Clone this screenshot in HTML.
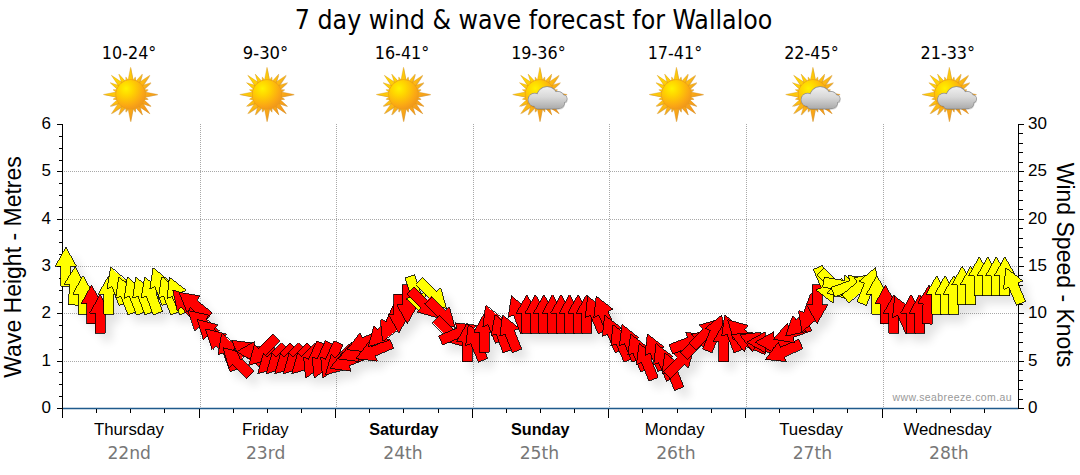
<!DOCTYPE html><html><head><meta charset="utf-8"><title>7 day wind &amp; wave forecast for Wallaloo</title>
<style>html,body{margin:0;padding:0;background:#fff;overflow:hidden}svg{display:block}text{font-family:"Liberation Sans",sans-serif;fill:#000}.t{font-family:"DejaVu Sans Condensed","DejaVu Sans","Liberation Sans",sans-serif}</style></head><body>
<svg width="1080" height="475" viewBox="0 0 1080 475">
<defs><filter id="sh" x="-5%" y="-20%" width="110%" height="150%"><feGaussianBlur in="SourceAlpha" stdDeviation="5"/><feOffset dx="7" dy="8"/><feComponentTransfer><feFuncA type="linear" slope="0.115"/></feComponentTransfer></filter></defs>
<rect width="1080" height="475" fill="#fff"/>
<text class="t" x="533.6" y="28.8" font-size="26" text-anchor="middle" textLength="477.5" lengthAdjust="spacingAndGlyphs">7 day wind &amp; wave forecast for Wallaloo</text>
<text class="t" x="129.1" y="59" font-size="17" text-anchor="middle" textLength="54.5" lengthAdjust="spacingAndGlyphs">10-24°</text>
<text class="t" x="265.5" y="59" font-size="17" text-anchor="middle" textLength="45.5" lengthAdjust="spacingAndGlyphs">9-30°</text>
<text class="t" x="402.0" y="59" font-size="17" text-anchor="middle" textLength="54.5" lengthAdjust="spacingAndGlyphs">16-41°</text>
<text class="t" x="538.4" y="59" font-size="17" text-anchor="middle" textLength="54.5" lengthAdjust="spacingAndGlyphs">19-36°</text>
<text class="t" x="674.9" y="59" font-size="17" text-anchor="middle" textLength="54.5" lengthAdjust="spacingAndGlyphs">17-41°</text>
<text class="t" x="811.4" y="59" font-size="17" text-anchor="middle" textLength="54.5" lengthAdjust="spacingAndGlyphs">22-45°</text>
<text class="t" x="947.8" y="59" font-size="17" text-anchor="middle" textLength="54.5" lengthAdjust="spacingAndGlyphs">21-33°</text>
<path d="M200.5 124.0V408.5M336.5 124.0V408.5M473.5 124.0V408.5M609.5 124.0V408.5M746.5 124.0V408.5M883.5 124.0V408.5M63.5 361.5H1016.5M63.5 313.5H1016.5M63.5 266.5H1016.5M63.5 219.5H1016.5M63.5 171.5H1016.5" stroke="#a8a8a8" stroke-width="1" stroke-dasharray="1 1" fill="none" shape-rendering="crispEdges"/>
<path d="M62.5 408.5H1018.5" stroke="#1f5a8c" stroke-width="1.4" fill="none"/>
<path d="M62.5 124.0V417.5M1018.5 124.0V408.5M57.0 408.5H62.5M1018.5 408.5H1024.0M1018.5 399.5H1022.5M1018.5 389.5H1022.5M1018.5 380.5H1022.5M1018.5 370.5H1022.5M57.0 361.5H62.5M1018.5 361.5H1024.0M1018.5 351.5H1022.5M1018.5 342.5H1022.5M1018.5 332.5H1022.5M1018.5 323.5H1022.5M57.0 313.5H62.5M1018.5 313.5H1024.0M1018.5 304.5H1022.5M1018.5 294.5H1022.5M1018.5 285.5H1022.5M1018.5 275.5H1022.5M57.0 266.5H62.5M1018.5 266.5H1024.0M1018.5 257.5H1022.5M1018.5 247.5H1022.5M1018.5 238.5H1022.5M1018.5 228.5H1022.5M57.0 219.5H62.5M1018.5 219.5H1024.0M1018.5 209.5H1022.5M1018.5 200.5H1022.5M1018.5 190.5H1022.5M1018.5 181.5H1022.5M57.0 171.5H62.5M1018.5 171.5H1024.0M1018.5 162.5H1022.5M1018.5 152.5H1022.5M1018.5 143.5H1022.5M1018.5 133.5H1022.5M57.0 124.5H62.5M1018.5 124.5H1024.0M58.5 396.5H62.5M58.5 384.5H62.5M58.5 372.5H62.5M58.5 349.5H62.5M58.5 337.5H62.5M58.5 325.5H62.5M58.5 302.5H62.5M58.5 290.5H62.5M58.5 278.5H62.5M58.5 254.5H62.5M58.5 242.5H62.5M58.5 230.5H62.5M58.5 207.5H62.5M58.5 195.5H62.5M58.5 183.5H62.5M58.5 160.5H62.5M58.5 148.5H62.5M58.5 136.5H62.5M62.5 408.5V417.5M96.5 408.5V413.0M130.5 408.5V413.0M164.5 408.5V413.0M199.5 408.5V417.5M233.5 408.5V413.0M267.5 408.5V413.0M301.5 408.5V413.0M335.5 408.5V417.5M369.5 408.5V413.0M403.5 408.5V413.0M438.5 408.5V413.0M472.5 408.5V417.5M506.5 408.5V413.0M540.5 408.5V413.0M574.5 408.5V413.0M608.5 408.5V417.5M642.5 408.5V413.0M677.5 408.5V413.0M711.5 408.5V413.0M745.5 408.5V417.5M779.5 408.5V413.0M813.5 408.5V413.0M847.5 408.5V413.0M882.5 408.5V417.5M916.5 408.5V413.0M950.5 408.5V413.0M984.5 408.5V413.0" stroke="#000" stroke-width="1" fill="none" shape-rendering="crispEdges"/>
<text x="51" y="412.9" font-size="17" text-anchor="end">0</text>
<text x="1028" y="412.9" font-size="17">0</text>
<text x="51" y="365.6" font-size="17" text-anchor="end">1</text>
<text x="1028" y="365.6" font-size="17">5</text>
<text x="51" y="318.2" font-size="17" text-anchor="end">2</text>
<text x="1028" y="318.2" font-size="17">10</text>
<text x="51" y="270.9" font-size="17" text-anchor="end">3</text>
<text x="1028" y="270.9" font-size="17">15</text>
<text x="51" y="223.6" font-size="17" text-anchor="end">4</text>
<text x="1028" y="223.6" font-size="17">20</text>
<text x="51" y="176.2" font-size="17" text-anchor="end">5</text>
<text x="1028" y="176.2" font-size="17">25</text>
<text x="51" y="128.9" font-size="17" text-anchor="end">6</text>
<text x="1028" y="128.9" font-size="17">30</text>
<text transform="translate(20.5,267) rotate(-90)" font-size="23" text-anchor="middle">Wave Height - Metres</text>
<text transform="translate(1057,265) rotate(90)" font-size="23" text-anchor="middle">Wind Speed - Knots</text>
<text x="128.9" y="435" font-size="16.8" text-anchor="middle">Thursday</text>
<text class="t" transform="translate(129.2,459) scale(1.09,1)" font-size="17.5" text-anchor="middle" style="fill:#777">22nd</text>
<text x="265.3" y="435" font-size="16.8" text-anchor="middle">Friday</text>
<text class="t" transform="translate(265.6,459) scale(1.09,1)" font-size="17.5" text-anchor="middle" style="fill:#777">23rd</text>
<text x="403.8" y="435" font-size="16.2" text-anchor="middle" font-weight="bold">Saturday</text>
<text class="t" transform="translate(403.0,459) scale(1.09,1)" font-size="17.5" text-anchor="middle" style="fill:#777">24th</text>
<text x="540.2" y="435" font-size="16.2" text-anchor="middle" font-weight="bold">Sunday</text>
<text class="t" transform="translate(539.4,459) scale(1.09,1)" font-size="17.5" text-anchor="middle" style="fill:#777">25th</text>
<text x="674.7" y="435" font-size="16.8" text-anchor="middle">Monday</text>
<text class="t" transform="translate(675.9,459) scale(1.09,1)" font-size="17.5" text-anchor="middle" style="fill:#777">26th</text>
<text x="811.1" y="435" font-size="16.8" text-anchor="middle">Tuesday</text>
<text class="t" transform="translate(812.4,459) scale(1.09,1)" font-size="17.5" text-anchor="middle" style="fill:#777">27th</text>
<text x="947.6" y="435" font-size="16.8" text-anchor="middle">Wednesday</text>
<text class="t" transform="translate(948.8,459) scale(1.09,1)" font-size="17.5" text-anchor="middle" style="fill:#777">28th</text>
<text x="1012" y="400.8" font-size="10.5" text-anchor="end" style="fill:#999" letter-spacing="0.4">www.seabreeze.com.au</text>
<defs><radialGradient id="sg" gradientUnits="userSpaceOnUse" cx="-4.5" cy="-6" r="21"><stop offset="0" stop-color="#fff200"/><stop offset="0.35" stop-color="#ffd400"/><stop offset="0.8" stop-color="#fba913"/><stop offset="1" stop-color="#f29a1a"/></radialGradient><linearGradient id="rg" gradientUnits="userSpaceOnUse" x1="-19" y1="-19" x2="19" y2="19"><stop offset="0" stop-color="#ffdc00"/><stop offset="0.5" stop-color="#fcb712"/><stop offset="1" stop-color="#f5921e"/></linearGradient><g id="sun"><path d="M13.50 -2.70L27.20 0.00L13.50 2.70ZM13.43 2.05L17.58 4.71L12.65 4.94ZM12.84 4.76L20.44 11.80L10.54 8.74ZM11.46 7.64L19.23 19.23L7.64 11.46ZM8.74 10.54L11.80 20.44L4.76 12.84ZM4.94 12.65L4.71 17.58L2.05 13.43ZM2.70 13.50L0.00 27.20L-2.70 13.50ZM-2.05 13.43L-4.71 17.58L-4.94 12.65ZM-4.76 12.84L-11.80 20.44L-8.74 10.54ZM-7.64 11.46L-19.23 19.23L-11.46 7.64ZM-10.54 8.74L-20.44 11.80L-12.84 4.76ZM-12.65 4.94L-17.58 4.71L-13.43 2.05ZM-13.50 2.70L-27.20 0.00L-13.50 -2.70ZM-13.43 -2.05L-17.58 -4.71L-12.65 -4.94ZM-12.84 -4.76L-20.44 -11.80L-10.54 -8.74ZM-11.46 -7.64L-19.23 -19.23L-7.64 -11.46ZM-8.74 -10.54L-11.80 -20.44L-4.76 -12.84ZM-4.94 -12.65L-4.71 -17.58L-2.05 -13.43ZM-2.70 -13.50L-0.00 -27.20L2.70 -13.50ZM2.05 -13.43L4.71 -17.58L4.94 -12.65ZM4.76 -12.84L11.80 -20.44L8.74 -10.54ZM7.64 -11.46L19.23 -19.23L11.46 -7.64ZM10.54 -8.74L20.44 -11.80L12.84 -4.76ZM12.65 -4.94L17.58 -4.71L13.43 -2.05Z" fill="#b9801c" opacity="0.55" transform="translate(0.5,0.6)"/><path d="M13.50 -2.70L27.20 0.00L13.50 2.70ZM13.43 2.05L17.58 4.71L12.65 4.94ZM12.84 4.76L20.44 11.80L10.54 8.74ZM11.46 7.64L19.23 19.23L7.64 11.46ZM8.74 10.54L11.80 20.44L4.76 12.84ZM4.94 12.65L4.71 17.58L2.05 13.43ZM2.70 13.50L0.00 27.20L-2.70 13.50ZM-2.05 13.43L-4.71 17.58L-4.94 12.65ZM-4.76 12.84L-11.80 20.44L-8.74 10.54ZM-7.64 11.46L-19.23 19.23L-11.46 7.64ZM-10.54 8.74L-20.44 11.80L-12.84 4.76ZM-12.65 4.94L-17.58 4.71L-13.43 2.05ZM-13.50 2.70L-27.20 0.00L-13.50 -2.70ZM-13.43 -2.05L-17.58 -4.71L-12.65 -4.94ZM-12.84 -4.76L-20.44 -11.80L-10.54 -8.74ZM-11.46 -7.64L-19.23 -19.23L-7.64 -11.46ZM-8.74 -10.54L-11.80 -20.44L-4.76 -12.84ZM-4.94 -12.65L-4.71 -17.58L-2.05 -13.43ZM-2.70 -13.50L-0.00 -27.20L2.70 -13.50ZM2.05 -13.43L4.71 -17.58L4.94 -12.65ZM4.76 -12.84L11.80 -20.44L8.74 -10.54ZM7.64 -11.46L19.23 -19.23L11.46 -7.64ZM10.54 -8.74L20.44 -11.80L12.84 -4.76ZM12.65 -4.94L17.58 -4.71L13.43 -2.05Z" fill="url(#rg)" stroke="#d9921c" stroke-width="0.45" stroke-opacity="0.8"/><circle r="15" fill="#e89a18"/><circle r="14.5" fill="url(#sg)"/></g><linearGradient id="cg" gradientUnits="userSpaceOnUse" x1="0" y1="-8" x2="0" y2="15.5"><stop offset="0" stop-color="#f0f0f0"/><stop offset="0.45" stop-color="#d8d8d8"/><stop offset="1" stop-color="#a6a6a6"/></linearGradient><g id="cloud"><g fill="#000" opacity="0.18" transform="translate(0.8,1.3)"><circle cx="-5.2" cy="5.2" r="6.3"/><circle cx="7.2" cy="2.6" r="10.2"/><circle cx="18" cy="3.4" r="6.2"/><circle cx="23.4" cy="4.2" r="3.5"/><rect x="-6" y="4" width="27" height="10" rx="4.5" ry="4.5"/><circle cx="18.8" cy="8.2" r="5.6"/></g><g fill="#8d8d8d" stroke="#8d8d8d" stroke-width="1.3"><circle cx="-5.2" cy="5.2" r="6.3"/><circle cx="7.2" cy="2.6" r="10.2"/><circle cx="18" cy="3.4" r="6.2"/><circle cx="23.4" cy="4.2" r="3.5"/><rect x="-6" y="4" width="27" height="10" rx="4.5" ry="4.5"/><circle cx="18.8" cy="8.2" r="5.6"/></g><g fill="url(#cg)"><circle cx="-5.2" cy="5.2" r="6.3"/><circle cx="7.2" cy="2.6" r="10.2"/><circle cx="18" cy="3.4" r="6.2"/><circle cx="23.4" cy="4.2" r="3.5"/><rect x="-6" y="4" width="27" height="10" rx="4.5" ry="4.5"/><circle cx="18.8" cy="8.2" r="5.6"/></g></g></defs>
<use href="#sun" x="130.6" y="94.5"/>
<use href="#sun" x="267.0" y="94.5"/>
<use href="#sun" x="403.5" y="94.5"/>
<use href="#sun" x="539.9" y="94.5"/>
<use href="#cloud" x="539.9" y="94.5"/>
<use href="#sun" x="676.4" y="94.5"/>
<use href="#sun" x="812.9" y="94.5"/>
<use href="#cloud" x="812.9" y="94.5"/>
<use href="#sun" x="949.3" y="94.5"/>
<use href="#cloud" x="949.3" y="94.5"/>
<path d="M65.9 247.3L76.4 266.0L70.9 266.0L70.9 286.0L60.9 286.0L60.9 266.0L55.4 266.0ZM75.4 266.3L84.9 285.5L79.5 285.2L78.4 305.2L68.4 304.6L69.5 284.7L64.0 284.4ZM83.0 275.7L93.5 294.4L88.0 294.4L88.0 314.4L78.0 314.4L78.0 294.4L72.5 294.4ZM91.5 285.2L102.0 303.9L96.5 303.9L96.5 323.9L86.5 323.9L86.5 303.9L81.0 303.9ZM100.0 294.6L110.5 313.3L105.0 313.3L105.0 333.3L95.0 333.3L95.0 313.3L89.5 313.3ZM108.6 275.7L119.1 294.4L113.6 294.4L113.6 314.4L103.6 314.4L103.6 294.4L98.1 294.4ZM110.5 267.4L126.8 281.4L121.6 283.3L128.5 302.0L119.1 305.5L112.2 286.7L107.1 288.6ZM118.8 277.0L135.3 290.7L130.1 292.6L137.3 311.3L128.0 314.9L120.8 296.2L115.7 298.2ZM127.3 277.0L143.8 290.7L138.7 292.6L145.8 311.3L136.5 314.9L129.3 296.2L124.2 298.2ZM135.8 277.0L152.3 290.7L147.2 292.6L154.4 311.3L145.0 314.9L137.9 296.2L132.7 298.2ZM144.7 276.9L161.0 290.8L155.8 292.7L162.6 311.5L153.2 314.9L146.4 296.1L141.2 298.0ZM152.9 267.5L169.4 281.2L164.3 283.2L171.5 301.8L162.1 305.4L154.9 286.8L149.8 288.7ZM161.5 277.0L178.0 290.7L172.8 292.6L180.0 311.3L170.7 314.9L163.5 296.2L158.4 298.2ZM169.4 277.2L186.3 290.3L181.3 292.5L189.1 310.9L179.9 314.8L172.1 296.4L167.0 298.5ZM172.8 289.9L193.0 297.1L188.8 300.7L202.0 315.8L194.4 322.4L181.3 307.3L177.2 310.9ZM179.0 292.3L200.2 295.9L196.7 300.2L212.2 312.8L205.9 320.5L190.4 307.9L186.9 312.2ZM188.2 310.5L209.1 315.2L205.5 319.2L220.3 332.6L213.6 340.1L198.8 326.7L195.1 330.8ZM197.2 319.4L217.9 324.9L214.1 328.8L228.5 342.7L221.6 349.9L207.2 336.0L203.4 340.0ZM205.5 329.1L226.3 334.2L222.6 338.2L237.2 351.9L230.4 359.2L215.8 345.5L212.0 349.6ZM221.5 333.7L237.8 347.6L232.6 349.5L239.5 368.3L230.1 371.7L223.2 352.9L218.0 354.8ZM223.0 347.6L243.7 353.4L239.8 357.3L253.9 371.4L246.9 378.5L232.7 364.3L228.8 368.2ZM231.6 340.4L252.9 342.9L249.7 347.4L265.9 359.1L260.0 367.2L243.8 355.5L240.6 359.9ZM235.5 351.7L254.2 341.2L254.2 346.7L274.2 346.7L274.2 356.7L254.2 356.7L254.2 362.2ZM248.7 365.3L254.4 344.6L258.3 348.5L272.5 334.4L279.6 341.4L265.4 355.6L269.3 359.5ZM257.7 373.7L263.5 353.1L267.4 357.0L281.5 342.8L288.6 349.9L274.4 364.1L278.3 367.9ZM266.2 373.7L272.0 353.1L275.9 357.0L290.1 342.8L297.1 349.9L283.0 364.1L286.9 367.9ZM274.8 373.7L280.6 353.1L284.4 357.0L298.6 342.8L305.7 349.9L291.5 364.1L295.4 367.9ZM283.3 373.7L289.1 353.1L293.0 357.0L307.1 342.8L314.2 349.9L300.1 364.1L303.9 367.9ZM291.8 373.7L297.6 353.1L301.5 357.0L315.7 342.8L322.7 349.9L308.6 364.1L312.5 367.9ZM305.6 378.2L303.6 356.9L308.7 359.1L316.8 340.8L325.9 344.9L317.8 363.2L322.8 365.4ZM314.2 378.2L312.2 356.9L317.2 359.1L325.3 340.8L334.5 344.9L326.3 363.2L331.4 365.4ZM322.7 378.2L320.7 356.9L325.7 359.1L333.9 340.8L343.0 344.9L334.9 363.2L339.9 365.4ZM325.5 374.7L331.3 354.1L335.2 358.0L349.3 343.8L356.4 350.9L342.2 365.1L346.1 368.9ZM329.8 368.4L343.2 351.6L345.3 356.7L363.8 349.2L367.5 358.5L349.0 366.0L351.1 371.1ZM338.3 358.9L351.7 342.2L353.8 347.3L372.3 339.8L376.1 349.0L357.5 356.5L359.6 361.6ZM347.0 349.7L360.1 332.8L362.2 337.8L380.7 330.0L384.6 339.2L366.2 347.0L368.3 352.1ZM356.0 358.7L369.1 341.7L371.3 346.8L389.7 339.0L393.6 348.2L375.2 356.0L377.3 361.1ZM368.4 346.6L373.8 325.8L377.8 329.7L391.7 315.3L398.9 322.2L385.0 336.6L388.9 340.4ZM382.5 340.8L380.5 319.5L385.5 321.7L393.6 303.5L402.8 307.5L394.6 325.8L399.7 328.0ZM398.8 333.0L388.3 314.3L393.8 314.3L393.8 294.3L403.8 294.3L403.8 314.3L409.3 314.3ZM407.3 323.6L396.8 304.9L402.3 304.9L402.3 284.9L412.3 284.9L412.3 304.9L417.8 304.9ZM421.8 313.2L406.0 298.6L411.3 296.9L405.1 277.9L414.6 274.8L420.8 293.8L426.0 292.1ZM438.0 317.9L417.3 312.1L421.2 308.3L407.1 294.1L414.2 287.0L428.3 301.2L432.2 297.3ZM446.5 308.5L425.9 302.7L429.8 298.8L415.6 284.6L422.7 277.6L436.8 291.7L440.7 287.8ZM455.1 327.4L434.4 321.6L438.3 317.7L424.2 303.6L431.2 296.5L445.4 310.7L449.3 306.8ZM463.6 346.3L442.9 340.5L446.8 336.7L432.7 322.5L439.8 315.4L453.9 329.6L457.8 325.7ZM476.2 325.3L463.1 342.2L461.0 337.2L442.6 345.0L438.7 335.8L457.1 328.0L454.9 322.9ZM467.1 323.0L477.6 341.7L472.1 341.7L472.1 361.7L462.1 361.7L462.1 341.7L456.6 341.7ZM468.4 324.4L485.2 337.8L480.1 339.9L487.6 358.4L478.3 362.2L470.8 343.6L465.7 345.7ZM484.2 313.6L494.7 332.3L489.2 332.3L489.2 352.3L479.2 352.3L479.2 332.3L473.7 332.3ZM485.5 305.5L502.2 318.9L497.1 321.0L504.6 339.5L495.4 343.3L487.9 324.7L482.8 326.8ZM495.0 314.6L511.0 328.9L505.8 330.7L512.3 349.6L502.9 352.8L496.3 333.9L491.1 335.7ZM502.6 315.0L519.3 328.4L514.2 330.4L521.7 349.0L512.4 352.7L504.9 334.2L499.8 336.2ZM511.4 295.9L527.9 309.6L522.8 311.6L530.0 330.2L520.6 333.8L513.5 315.2L508.3 317.1ZM526.8 294.6L537.3 313.3L531.8 313.3L531.8 333.3L521.8 333.3L521.8 313.3L516.3 313.3ZM535.4 294.6L545.9 313.3L540.4 313.3L540.4 333.3L530.4 333.3L530.4 313.3L524.9 313.3ZM543.9 294.6L554.4 313.3L548.9 313.3L548.9 333.3L538.9 333.3L538.9 313.3L533.4 313.3ZM552.5 294.6L563.0 313.3L557.5 313.3L557.5 333.3L547.5 333.3L547.5 313.3L542.0 313.3ZM561.0 294.6L571.5 313.3L566.0 313.3L566.0 333.3L556.0 333.3L556.0 313.3L550.5 313.3ZM569.5 294.6L580.0 313.3L574.5 313.3L574.5 333.3L564.5 333.3L564.5 313.3L559.0 313.3ZM578.1 294.6L588.6 313.3L583.1 313.3L583.1 333.3L573.1 333.3L573.1 313.3L567.6 313.3ZM586.6 294.6L597.1 313.3L591.6 313.3L591.6 333.3L581.6 333.3L581.6 313.3L576.1 313.3ZM587.6 296.2L604.6 309.3L599.5 311.4L607.4 329.8L598.1 333.7L590.3 315.3L585.3 317.5ZM596.2 296.2L613.1 309.3L608.1 311.4L615.9 329.8L606.7 333.7L598.9 315.3L593.8 317.5ZM604.7 315.1L621.7 328.2L616.6 330.4L624.4 348.8L615.2 352.7L607.4 334.3L602.3 336.4ZM612.9 324.7L630.1 337.5L625.1 339.7L633.2 358.0L624.1 362.1L616.0 343.8L610.9 346.0ZM622.1 324.4L638.8 337.8L633.7 339.9L641.2 358.4L631.9 362.2L624.5 343.6L619.4 345.7ZM630.6 333.9L647.4 347.3L642.3 349.4L649.8 367.9L640.5 371.7L633.0 353.1L627.9 355.2ZM639.2 343.4L655.9 356.8L650.8 358.8L658.3 377.4L649.0 381.1L641.5 362.6L636.4 364.6ZM647.4 334.0L664.4 347.1L659.3 349.3L667.1 367.7L657.9 371.6L650.1 353.2L645.0 355.3ZM655.9 343.5L672.9 356.6L667.8 358.8L675.6 377.2L666.4 381.1L658.6 362.7L653.6 364.8ZM664.8 352.8L681.5 366.2L676.4 368.3L683.9 386.8L674.6 390.6L667.1 372.0L662.0 374.1ZM694.1 347.6L688.3 368.2L684.4 364.3L670.2 378.5L663.2 371.4L677.3 357.3L673.4 353.4ZM707.0 335.4L693.3 351.9L691.3 346.7L672.6 353.9L669.0 344.6L687.7 337.4L685.7 332.3ZM711.1 328.7L705.3 349.3L701.5 345.4L687.3 359.6L680.2 352.5L694.4 338.3L690.5 334.5ZM719.7 319.2L713.9 339.8L710.0 335.9L695.8 350.1L688.8 343.0L702.9 328.9L699.0 325.0ZM721.8 315.0L724.6 336.2L719.5 334.2L712.0 352.7L702.7 349.0L710.2 330.4L705.1 328.4ZM723.7 323.0L734.2 341.7L728.7 341.7L728.7 361.7L718.7 361.7L718.7 341.7L713.2 341.7ZM724.8 314.8L741.3 328.5L736.2 330.5L743.4 349.2L734.0 352.8L726.9 334.1L721.7 336.1ZM727.7 319.7L748.3 325.5L744.4 329.4L758.6 343.5L751.5 350.6L737.4 336.4L733.5 340.3ZM731.1 334.7L752.4 332.4L750.3 337.4L768.7 345.3L764.8 354.5L746.4 346.6L744.2 351.7ZM739.6 334.7L761.0 332.4L758.8 337.4L777.2 345.3L773.3 354.5L754.9 346.6L752.8 351.7ZM746.7 342.2L765.4 331.7L765.4 337.2L785.4 337.2L785.4 347.2L765.4 347.2L765.4 352.7ZM755.2 342.2L773.9 331.7L773.9 337.2L793.9 337.2L793.9 347.2L773.9 347.2L773.9 352.7ZM765.4 359.5L778.2 342.3L780.4 347.3L798.7 339.2L802.8 348.3L784.5 356.5L786.7 361.5ZM773.4 339.3L787.4 323.1L789.3 328.2L808.1 321.4L811.5 330.8L792.7 337.6L794.6 342.8ZM785.7 336.1L792.6 315.8L796.3 319.9L811.1 306.5L817.8 314.0L803.0 327.4L806.7 331.4ZM802.0 331.9L798.5 310.7L803.7 312.6L810.5 293.8L819.9 297.2L813.1 316.0L818.2 317.9ZM817.1 323.6L806.6 304.9L812.1 304.9L812.1 284.9L822.1 284.9L822.1 304.9L827.6 304.9ZM833.1 303.1L816.1 290.0L821.2 287.8L813.4 269.4L822.6 265.5L830.4 283.9L835.5 281.8ZM847.7 299.0L827.1 293.2L831.0 289.3L816.8 275.2L823.9 268.1L838.0 282.3L841.9 278.4ZM861.6 288.8L841.3 295.9L842.3 290.4L822.6 287.0L824.3 277.1L844.0 280.6L845.0 275.2ZM869.3 278.9L855.3 295.1L853.4 290.0L834.6 296.8L831.2 287.4L850.0 280.6L848.1 275.4ZM875.0 273.8L867.4 293.9L863.8 289.6L848.5 302.5L842.1 294.8L857.4 282.0L853.9 277.8ZM875.7 267.5L878.8 288.7L873.6 286.8L866.5 305.4L857.1 301.8L864.3 283.2L859.2 281.2ZM876.8 275.7L887.3 294.4L881.8 294.4L881.8 314.4L871.8 314.4L871.8 294.4L866.3 294.4ZM885.4 285.2L895.9 303.9L890.4 303.9L890.4 323.9L880.4 323.9L880.4 303.9L874.9 303.9ZM893.9 294.6L904.4 313.3L898.9 313.3L898.9 333.3L888.9 333.3L888.9 313.3L883.4 313.3ZM894.6 296.3L911.8 309.1L906.8 311.3L914.9 329.6L905.8 333.7L897.7 315.4L892.6 317.6ZM911.0 294.6L921.5 313.3L916.0 313.3L916.0 333.3L906.0 333.3L906.0 313.3L900.5 313.3ZM919.5 294.6L930.0 313.3L924.5 313.3L924.5 333.3L914.5 333.3L914.5 313.3L909.0 313.3ZM929.0 285.2L938.5 304.4L933.1 304.1L932.0 324.1L922.0 323.6L923.1 303.6L917.6 303.3ZM936.6 275.7L947.1 294.4L941.6 294.4L941.6 314.4L931.6 314.4L931.6 294.4L926.1 294.4ZM945.1 275.7L955.6 294.4L950.1 294.4L950.1 314.4L940.1 314.4L940.1 294.4L934.6 294.4ZM953.6 275.7L964.1 294.4L958.6 294.4L958.6 314.4L948.6 314.4L948.6 294.4L943.1 294.4ZM962.2 266.2L972.7 284.9L967.2 284.9L967.2 304.9L957.2 304.9L957.2 284.9L951.7 284.9ZM970.7 266.2L981.2 284.9L975.7 284.9L975.7 304.9L965.7 304.9L965.7 284.9L960.2 284.9ZM979.3 256.8L989.8 275.5L984.3 275.5L984.3 295.5L974.3 295.5L974.3 275.5L968.8 275.5ZM987.8 256.8L998.3 275.5L992.8 275.5L992.8 295.5L982.8 295.5L982.8 275.5L977.3 275.5ZM996.3 256.8L1006.8 275.5L1001.3 275.5L1001.3 295.5L991.3 295.5L991.3 275.5L985.8 275.5ZM1004.9 256.8L1015.4 275.5L1009.9 275.5L1009.9 295.5L999.9 295.5L999.9 275.5L994.4 275.5ZM1005.9 267.8L1022.9 280.9L1017.8 283.0L1025.6 301.4L1016.4 305.3L1008.6 286.9L1003.5 289.1Z" fill="#000" filter="url(#sh)"/>
<g stroke="#000" stroke-width="0.8" stroke-linejoin="miter" shape-rendering="crispEdges">
<path d="M65.9 247.3L76.4 266.0L70.9 266.0L70.9 286.0L60.9 286.0L60.9 266.0L55.4 266.0Z" fill="#ffff00"/>
<path d="M75.4 266.3L84.9 285.5L79.5 285.2L78.4 305.2L68.4 304.6L69.5 284.7L64.0 284.4Z" fill="#ffff00"/>
<path d="M83.0 275.7L93.5 294.4L88.0 294.4L88.0 314.4L78.0 314.4L78.0 294.4L72.5 294.4Z" fill="#ffff00"/>
<path d="M91.5 285.2L102.0 303.9L96.5 303.9L96.5 323.9L86.5 323.9L86.5 303.9L81.0 303.9Z" fill="#ff0000"/>
<path d="M100.0 294.6L110.5 313.3L105.0 313.3L105.0 333.3L95.0 333.3L95.0 313.3L89.5 313.3Z" fill="#ff0000"/>
<path d="M108.6 275.7L119.1 294.4L113.6 294.4L113.6 314.4L103.6 314.4L103.6 294.4L98.1 294.4Z" fill="#ffff00"/>
<path d="M110.5 267.4L126.8 281.4L121.6 283.3L128.5 302.0L119.1 305.5L112.2 286.7L107.1 288.6Z" fill="#ffff00"/>
<path d="M118.8 277.0L135.3 290.7L130.1 292.6L137.3 311.3L128.0 314.9L120.8 296.2L115.7 298.2Z" fill="#ffff00"/>
<path d="M127.3 277.0L143.8 290.7L138.7 292.6L145.8 311.3L136.5 314.9L129.3 296.2L124.2 298.2Z" fill="#ffff00"/>
<path d="M135.8 277.0L152.3 290.7L147.2 292.6L154.4 311.3L145.0 314.9L137.9 296.2L132.7 298.2Z" fill="#ffff00"/>
<path d="M144.7 276.9L161.0 290.8L155.8 292.7L162.6 311.5L153.2 314.9L146.4 296.1L141.2 298.0Z" fill="#ffff00"/>
<path d="M152.9 267.5L169.4 281.2L164.3 283.2L171.5 301.8L162.1 305.4L154.9 286.8L149.8 288.7Z" fill="#ffff00"/>
<path d="M161.5 277.0L178.0 290.7L172.8 292.6L180.0 311.3L170.7 314.9L163.5 296.2L158.4 298.2Z" fill="#ffff00"/>
<path d="M169.4 277.2L186.3 290.3L181.3 292.5L189.1 310.9L179.9 314.8L172.1 296.4L167.0 298.5Z" fill="#ffff00"/>
<path d="M172.8 289.9L193.0 297.1L188.8 300.7L202.0 315.8L194.4 322.4L181.3 307.3L177.2 310.9Z" fill="#ff0000"/>
<path d="M179.0 292.3L200.2 295.9L196.7 300.2L212.2 312.8L205.9 320.5L190.4 307.9L186.9 312.2Z" fill="#ff0000"/>
<path d="M188.2 310.5L209.1 315.2L205.5 319.2L220.3 332.6L213.6 340.1L198.8 326.7L195.1 330.8Z" fill="#ff0000"/>
<path d="M197.2 319.4L217.9 324.9L214.1 328.8L228.5 342.7L221.6 349.9L207.2 336.0L203.4 340.0Z" fill="#ff0000"/>
<path d="M205.5 329.1L226.3 334.2L222.6 338.2L237.2 351.9L230.4 359.2L215.8 345.5L212.0 349.6Z" fill="#ff0000"/>
<path d="M221.5 333.7L237.8 347.6L232.6 349.5L239.5 368.3L230.1 371.7L223.2 352.9L218.0 354.8Z" fill="#ff0000"/>
<path d="M223.0 347.6L243.7 353.4L239.8 357.3L253.9 371.4L246.9 378.5L232.7 364.3L228.8 368.2Z" fill="#ff0000"/>
<path d="M231.6 340.4L252.9 342.9L249.7 347.4L265.9 359.1L260.0 367.2L243.8 355.5L240.6 359.9Z" fill="#ff0000"/>
<path d="M235.5 351.7L254.2 341.2L254.2 346.7L274.2 346.7L274.2 356.7L254.2 356.7L254.2 362.2Z" fill="#ff0000"/>
<path d="M248.7 365.3L254.4 344.6L258.3 348.5L272.5 334.4L279.6 341.4L265.4 355.6L269.3 359.5Z" fill="#ff0000"/>
<path d="M257.7 373.7L263.5 353.1L267.4 357.0L281.5 342.8L288.6 349.9L274.4 364.1L278.3 367.9Z" fill="#ff0000"/>
<path d="M266.2 373.7L272.0 353.1L275.9 357.0L290.1 342.8L297.1 349.9L283.0 364.1L286.9 367.9Z" fill="#ff0000"/>
<path d="M274.8 373.7L280.6 353.1L284.4 357.0L298.6 342.8L305.7 349.9L291.5 364.1L295.4 367.9Z" fill="#ff0000"/>
<path d="M283.3 373.7L289.1 353.1L293.0 357.0L307.1 342.8L314.2 349.9L300.1 364.1L303.9 367.9Z" fill="#ff0000"/>
<path d="M291.8 373.7L297.6 353.1L301.5 357.0L315.7 342.8L322.7 349.9L308.6 364.1L312.5 367.9Z" fill="#ff0000"/>
<path d="M305.6 378.2L303.6 356.9L308.7 359.1L316.8 340.8L325.9 344.9L317.8 363.2L322.8 365.4Z" fill="#ff0000"/>
<path d="M314.2 378.2L312.2 356.9L317.2 359.1L325.3 340.8L334.5 344.9L326.3 363.2L331.4 365.4Z" fill="#ff0000"/>
<path d="M322.7 378.2L320.7 356.9L325.7 359.1L333.9 340.8L343.0 344.9L334.9 363.2L339.9 365.4Z" fill="#ff0000"/>
<path d="M325.5 374.7L331.3 354.1L335.2 358.0L349.3 343.8L356.4 350.9L342.2 365.1L346.1 368.9Z" fill="#ff0000"/>
<path d="M329.8 368.4L343.2 351.6L345.3 356.7L363.8 349.2L367.5 358.5L349.0 366.0L351.1 371.1Z" fill="#ff0000"/>
<path d="M338.3 358.9L351.7 342.2L353.8 347.3L372.3 339.8L376.1 349.0L357.5 356.5L359.6 361.6Z" fill="#ff0000"/>
<path d="M347.0 349.7L360.1 332.8L362.2 337.8L380.7 330.0L384.6 339.2L366.2 347.0L368.3 352.1Z" fill="#ff0000"/>
<path d="M356.0 358.7L369.1 341.7L371.3 346.8L389.7 339.0L393.6 348.2L375.2 356.0L377.3 361.1Z" fill="#ff0000"/>
<path d="M368.4 346.6L373.8 325.8L377.8 329.7L391.7 315.3L398.9 322.2L385.0 336.6L388.9 340.4Z" fill="#ff0000"/>
<path d="M382.5 340.8L380.5 319.5L385.5 321.7L393.6 303.5L402.8 307.5L394.6 325.8L399.7 328.0Z" fill="#ff0000"/>
<path d="M398.8 333.0L388.3 314.3L393.8 314.3L393.8 294.3L403.8 294.3L403.8 314.3L409.3 314.3Z" fill="#ff0000"/>
<path d="M407.3 323.6L396.8 304.9L402.3 304.9L402.3 284.9L412.3 284.9L412.3 304.9L417.8 304.9Z" fill="#ff0000"/>
<path d="M421.8 313.2L406.0 298.6L411.3 296.9L405.1 277.9L414.6 274.8L420.8 293.8L426.0 292.1Z" fill="#ffff00"/>
<path d="M438.0 317.9L417.3 312.1L421.2 308.3L407.1 294.1L414.2 287.0L428.3 301.2L432.2 297.3Z" fill="#ff0000"/>
<path d="M446.5 308.5L425.9 302.7L429.8 298.8L415.6 284.6L422.7 277.6L436.8 291.7L440.7 287.8Z" fill="#ffff00"/>
<path d="M455.1 327.4L434.4 321.6L438.3 317.7L424.2 303.6L431.2 296.5L445.4 310.7L449.3 306.8Z" fill="#ff0000"/>
<path d="M463.6 346.3L442.9 340.5L446.8 336.7L432.7 322.5L439.8 315.4L453.9 329.6L457.8 325.7Z" fill="#ff0000"/>
<path d="M476.2 325.3L463.1 342.2L461.0 337.2L442.6 345.0L438.7 335.8L457.1 328.0L454.9 322.9Z" fill="#ff0000"/>
<path d="M467.1 323.0L477.6 341.7L472.1 341.7L472.1 361.7L462.1 361.7L462.1 341.7L456.6 341.7Z" fill="#ff0000"/>
<path d="M468.4 324.4L485.2 337.8L480.1 339.9L487.6 358.4L478.3 362.2L470.8 343.6L465.7 345.7Z" fill="#ff0000"/>
<path d="M484.2 313.6L494.7 332.3L489.2 332.3L489.2 352.3L479.2 352.3L479.2 332.3L473.7 332.3Z" fill="#ff0000"/>
<path d="M485.5 305.5L502.2 318.9L497.1 321.0L504.6 339.5L495.4 343.3L487.9 324.7L482.8 326.8Z" fill="#ff0000"/>
<path d="M495.0 314.6L511.0 328.9L505.8 330.7L512.3 349.6L502.9 352.8L496.3 333.9L491.1 335.7Z" fill="#ff0000"/>
<path d="M502.6 315.0L519.3 328.4L514.2 330.4L521.7 349.0L512.4 352.7L504.9 334.2L499.8 336.2Z" fill="#ff0000"/>
<path d="M511.4 295.9L527.9 309.6L522.8 311.6L530.0 330.2L520.6 333.8L513.5 315.2L508.3 317.1Z" fill="#ff0000"/>
<path d="M526.8 294.6L537.3 313.3L531.8 313.3L531.8 333.3L521.8 333.3L521.8 313.3L516.3 313.3Z" fill="#ff0000"/>
<path d="M535.4 294.6L545.9 313.3L540.4 313.3L540.4 333.3L530.4 333.3L530.4 313.3L524.9 313.3Z" fill="#ff0000"/>
<path d="M543.9 294.6L554.4 313.3L548.9 313.3L548.9 333.3L538.9 333.3L538.9 313.3L533.4 313.3Z" fill="#ff0000"/>
<path d="M552.5 294.6L563.0 313.3L557.5 313.3L557.5 333.3L547.5 333.3L547.5 313.3L542.0 313.3Z" fill="#ff0000"/>
<path d="M561.0 294.6L571.5 313.3L566.0 313.3L566.0 333.3L556.0 333.3L556.0 313.3L550.5 313.3Z" fill="#ff0000"/>
<path d="M569.5 294.6L580.0 313.3L574.5 313.3L574.5 333.3L564.5 333.3L564.5 313.3L559.0 313.3Z" fill="#ff0000"/>
<path d="M578.1 294.6L588.6 313.3L583.1 313.3L583.1 333.3L573.1 333.3L573.1 313.3L567.6 313.3Z" fill="#ff0000"/>
<path d="M586.6 294.6L597.1 313.3L591.6 313.3L591.6 333.3L581.6 333.3L581.6 313.3L576.1 313.3Z" fill="#ff0000"/>
<path d="M587.6 296.2L604.6 309.3L599.5 311.4L607.4 329.8L598.1 333.7L590.3 315.3L585.3 317.5Z" fill="#ff0000"/>
<path d="M596.2 296.2L613.1 309.3L608.1 311.4L615.9 329.8L606.7 333.7L598.9 315.3L593.8 317.5Z" fill="#ff0000"/>
<path d="M604.7 315.1L621.7 328.2L616.6 330.4L624.4 348.8L615.2 352.7L607.4 334.3L602.3 336.4Z" fill="#ff0000"/>
<path d="M612.9 324.7L630.1 337.5L625.1 339.7L633.2 358.0L624.1 362.1L616.0 343.8L610.9 346.0Z" fill="#ff0000"/>
<path d="M622.1 324.4L638.8 337.8L633.7 339.9L641.2 358.4L631.9 362.2L624.5 343.6L619.4 345.7Z" fill="#ff0000"/>
<path d="M630.6 333.9L647.4 347.3L642.3 349.4L649.8 367.9L640.5 371.7L633.0 353.1L627.9 355.2Z" fill="#ff0000"/>
<path d="M639.2 343.4L655.9 356.8L650.8 358.8L658.3 377.4L649.0 381.1L641.5 362.6L636.4 364.6Z" fill="#ff0000"/>
<path d="M647.4 334.0L664.4 347.1L659.3 349.3L667.1 367.7L657.9 371.6L650.1 353.2L645.0 355.3Z" fill="#ff0000"/>
<path d="M655.9 343.5L672.9 356.6L667.8 358.8L675.6 377.2L666.4 381.1L658.6 362.7L653.6 364.8Z" fill="#ff0000"/>
<path d="M664.8 352.8L681.5 366.2L676.4 368.3L683.9 386.8L674.6 390.6L667.1 372.0L662.0 374.1Z" fill="#ff0000"/>
<path d="M694.1 347.6L688.3 368.2L684.4 364.3L670.2 378.5L663.2 371.4L677.3 357.3L673.4 353.4Z" fill="#ff0000"/>
<path d="M707.0 335.4L693.3 351.9L691.3 346.7L672.6 353.9L669.0 344.6L687.7 337.4L685.7 332.3Z" fill="#ff0000"/>
<path d="M711.1 328.7L705.3 349.3L701.5 345.4L687.3 359.6L680.2 352.5L694.4 338.3L690.5 334.5Z" fill="#ff0000"/>
<path d="M719.7 319.2L713.9 339.8L710.0 335.9L695.8 350.1L688.8 343.0L702.9 328.9L699.0 325.0Z" fill="#ff0000"/>
<path d="M721.8 315.0L724.6 336.2L719.5 334.2L712.0 352.7L702.7 349.0L710.2 330.4L705.1 328.4Z" fill="#ff0000"/>
<path d="M723.7 323.0L734.2 341.7L728.7 341.7L728.7 361.7L718.7 361.7L718.7 341.7L713.2 341.7Z" fill="#ff0000"/>
<path d="M724.8 314.8L741.3 328.5L736.2 330.5L743.4 349.2L734.0 352.8L726.9 334.1L721.7 336.1Z" fill="#ff0000"/>
<path d="M727.7 319.7L748.3 325.5L744.4 329.4L758.6 343.5L751.5 350.6L737.4 336.4L733.5 340.3Z" fill="#ff0000"/>
<path d="M731.1 334.7L752.4 332.4L750.3 337.4L768.7 345.3L764.8 354.5L746.4 346.6L744.2 351.7Z" fill="#ff0000"/>
<path d="M739.6 334.7L761.0 332.4L758.8 337.4L777.2 345.3L773.3 354.5L754.9 346.6L752.8 351.7Z" fill="#ff0000"/>
<path d="M746.7 342.2L765.4 331.7L765.4 337.2L785.4 337.2L785.4 347.2L765.4 347.2L765.4 352.7Z" fill="#ff0000"/>
<path d="M755.2 342.2L773.9 331.7L773.9 337.2L793.9 337.2L793.9 347.2L773.9 347.2L773.9 352.7Z" fill="#ff0000"/>
<path d="M765.4 359.5L778.2 342.3L780.4 347.3L798.7 339.2L802.8 348.3L784.5 356.5L786.7 361.5Z" fill="#ff0000"/>
<path d="M773.4 339.3L787.4 323.1L789.3 328.2L808.1 321.4L811.5 330.8L792.7 337.6L794.6 342.8Z" fill="#ff0000"/>
<path d="M785.7 336.1L792.6 315.8L796.3 319.9L811.1 306.5L817.8 314.0L803.0 327.4L806.7 331.4Z" fill="#ff0000"/>
<path d="M802.0 331.9L798.5 310.7L803.7 312.6L810.5 293.8L819.9 297.2L813.1 316.0L818.2 317.9Z" fill="#ff0000"/>
<path d="M817.1 323.6L806.6 304.9L812.1 304.9L812.1 284.9L822.1 284.9L822.1 304.9L827.6 304.9Z" fill="#ff0000"/>
<path d="M833.1 303.1L816.1 290.0L821.2 287.8L813.4 269.4L822.6 265.5L830.4 283.9L835.5 281.8Z" fill="#ffff00"/>
<path d="M847.7 299.0L827.1 293.2L831.0 289.3L816.8 275.2L823.9 268.1L838.0 282.3L841.9 278.4Z" fill="#ffff00"/>
<path d="M861.6 288.8L841.3 295.9L842.3 290.4L822.6 287.0L824.3 277.1L844.0 280.6L845.0 275.2Z" fill="#ffff00"/>
<path d="M869.3 278.9L855.3 295.1L853.4 290.0L834.6 296.8L831.2 287.4L850.0 280.6L848.1 275.4Z" fill="#ffff00"/>
<path d="M875.0 273.8L867.4 293.9L863.8 289.6L848.5 302.5L842.1 294.8L857.4 282.0L853.9 277.8Z" fill="#ffff00"/>
<path d="M875.7 267.5L878.8 288.7L873.6 286.8L866.5 305.4L857.1 301.8L864.3 283.2L859.2 281.2Z" fill="#ffff00"/>
<path d="M876.8 275.7L887.3 294.4L881.8 294.4L881.8 314.4L871.8 314.4L871.8 294.4L866.3 294.4Z" fill="#ffff00"/>
<path d="M885.4 285.2L895.9 303.9L890.4 303.9L890.4 323.9L880.4 323.9L880.4 303.9L874.9 303.9Z" fill="#ff0000"/>
<path d="M893.9 294.6L904.4 313.3L898.9 313.3L898.9 333.3L888.9 333.3L888.9 313.3L883.4 313.3Z" fill="#ff0000"/>
<path d="M894.6 296.3L911.8 309.1L906.8 311.3L914.9 329.6L905.8 333.7L897.7 315.4L892.6 317.6Z" fill="#ff0000"/>
<path d="M911.0 294.6L921.5 313.3L916.0 313.3L916.0 333.3L906.0 333.3L906.0 313.3L900.5 313.3Z" fill="#ff0000"/>
<path d="M919.5 294.6L930.0 313.3L924.5 313.3L924.5 333.3L914.5 333.3L914.5 313.3L909.0 313.3Z" fill="#ff0000"/>
<path d="M929.0 285.2L938.5 304.4L933.1 304.1L932.0 324.1L922.0 323.6L923.1 303.6L917.6 303.3Z" fill="#ff0000"/>
<path d="M936.6 275.7L947.1 294.4L941.6 294.4L941.6 314.4L931.6 314.4L931.6 294.4L926.1 294.4Z" fill="#ffff00"/>
<path d="M945.1 275.7L955.6 294.4L950.1 294.4L950.1 314.4L940.1 314.4L940.1 294.4L934.6 294.4Z" fill="#ffff00"/>
<path d="M953.6 275.7L964.1 294.4L958.6 294.4L958.6 314.4L948.6 314.4L948.6 294.4L943.1 294.4Z" fill="#ffff00"/>
<path d="M962.2 266.2L972.7 284.9L967.2 284.9L967.2 304.9L957.2 304.9L957.2 284.9L951.7 284.9Z" fill="#ffff00"/>
<path d="M970.7 266.2L981.2 284.9L975.7 284.9L975.7 304.9L965.7 304.9L965.7 284.9L960.2 284.9Z" fill="#ffff00"/>
<path d="M979.3 256.8L989.8 275.5L984.3 275.5L984.3 295.5L974.3 295.5L974.3 275.5L968.8 275.5Z" fill="#ffff00"/>
<path d="M987.8 256.8L998.3 275.5L992.8 275.5L992.8 295.5L982.8 295.5L982.8 275.5L977.3 275.5Z" fill="#ffff00"/>
<path d="M996.3 256.8L1006.8 275.5L1001.3 275.5L1001.3 295.5L991.3 295.5L991.3 275.5L985.8 275.5Z" fill="#ffff00"/>
<path d="M1004.9 256.8L1015.4 275.5L1009.9 275.5L1009.9 295.5L999.9 295.5L999.9 275.5L994.4 275.5Z" fill="#ffff00"/>
<path d="M1005.9 267.8L1022.9 280.9L1017.8 283.0L1025.6 301.4L1016.4 305.3L1008.6 286.9L1003.5 289.1Z" fill="#ffff00"/>
</g>
</svg></body></html>
